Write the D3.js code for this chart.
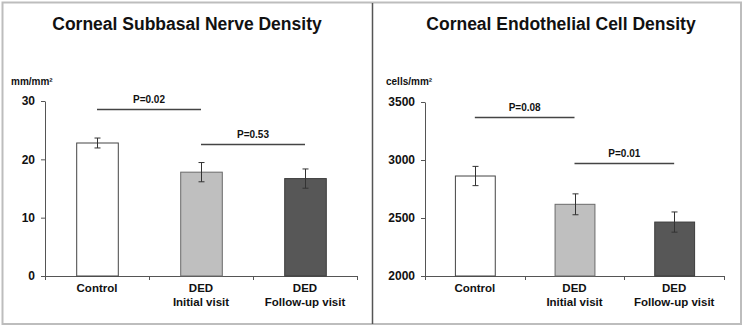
<!DOCTYPE html>
<html><head><meta charset="utf-8">
<script src="https://cdn.jsdelivr.net/npm/d3@7"></script>
<style>html,body{margin:0;padding:0;background:#fff}svg{display:block}text{font-family:Arial,"Liberation Sans",sans-serif;font-weight:bold;fill:#111}</style>
</head><body><svg id="c" width="744" height="328"></svg>
<script>
const categories = ["Control", "DED\nInitial visit", "DED\nFollow-up visit"];
const nerveMeans = [22.8, 17.8, 16.7];
const nerveErr = [0.85, 1.65, 1.65];
const nerveTicks = [0, 10, 20, 30];
const cellMeans = [2862, 2618, 2465];
const cellErr = [83, 90, 87];
const cellTicks = [2000, 2500, 3000, 3500];
const fills = ["#ffffff", "#bfbfbf", "#575757"];
const strokes = ["#444444", "#6a6a6a", "#3c3c3c"];
const nervePvals = [{from:0,to:1,label:"P=0.02",y:28.6},{from:1,to:2,label:"P=0.53",y:22.6}];
const cellPvals = [{from:0,to:1,label:"P=0.08",y:3375},{from:1,to:2,label:"P=0.01",y:2975}];

const svg = d3.select("#c");
svg.append("rect").attr("x",2.5).attr("y",2.5).attr("width",738.5).attr("height",321.5)
  .attr("fill","none").attr("stroke","#bdbdbd").attr("stroke-width",2);
svg.append("line").attr("x1",372.5).attr("x2",372.5).attr("y1",3).attr("y2",324)
  .attr("stroke","#555").attr("stroke-width",1.5);

function panel(o){
  const g = svg.append("g");
  const x = d3.scaleBand().domain(categories).range([o.x0,o.x1]).paddingInner(0.6).paddingOuter(0.3);
  const y = d3.scaleLinear().domain(o.domain).range([276,o.yTop]);
  g.append("text").attr("x",o.tx).attr("y",29.5).attr("text-anchor","middle")
    .style("font-size","17.5px").text(o.title);
  g.append("text").attr("x",o.ux).attr("y",85).style("font-size","10px").text(o.unit);
  // y axis
  const ya = g.append("g").attr("transform",`translate(${o.x0},0)`)
    .call(d3.axisLeft(y).tickValues(o.ticks).tickFormat(d3.format("d")).tickSize(4).tickSizeOuter(0).tickPadding(6));
  ya.select(".domain").attr("stroke","#555");
  ya.selectAll(".tick line").attr("stroke","#555");
  ya.selectAll(".tick text").style("font-size","12px").attr("fill","#111");
  // x axis
  g.append("line").attr("x1",o.x0).attr("x2",o.x1).attr("y1",276.5).attr("y2",276.5).attr("stroke","#555");
  const step = x.step();
  for(let i=0;i<=categories.length;i++){
    const bx = Math.round(o.x0 + i*step)+0.5;
    g.append("line").attr("x1",bx).attr("x2",bx).attr("y1",276).attr("y2",280).attr("stroke","#555");
  }
  // bars
  g.selectAll("rect.bar").data(o.means).join("rect").attr("class","bar")
    .attr("x",(d,i)=>x(categories[i])+0.5).attr("width",x.bandwidth())
    .attr("y",d=>y(d)).attr("height",d=>276-y(d))
    .attr("fill",(d,i)=>fills[i]).attr("stroke",(d,i)=>strokes[i]).attr("stroke-width",1);
  // error bars
  o.means.forEach((m,i)=>{
    const cx = Math.round(x(categories[i])+x.bandwidth()/2)+0.5;
    const e = o.err[i];
    g.append("line").attr("x1",cx).attr("x2",cx).attr("y1",y(m+e)).attr("y2",y(m-e)).attr("stroke","#333");
    [m+e,m-e].forEach(v=>g.append("line").attr("x1",cx-3).attr("x2",cx+3).attr("y1",y(v)).attr("y2",y(v)).attr("stroke","#333"));
  });
  // category labels
  categories.forEach((c,i)=>{
    const cx = x(categories[i])+x.bandwidth()/2;
    const t = g.append("text").attr("text-anchor","middle").style("font-size","11.5px");
    c.split("\n").forEach((ln,j)=>t.append("tspan").attr("x",cx).attr("y",292+j*14).text(ln));
  });
  // p-values
  o.pvals.forEach(p=>{
    const xa = x(categories[p.from])+x.bandwidth()/2, xb = x(categories[p.to])+x.bandwidth()/2;
    const yy = Math.round(y(p.y))+0.5;
    g.append("line").attr("x1",xa).attr("x2",xb).attr("y1",yy).attr("y2",yy).attr("stroke","#444").attr("stroke-width",1.3);
    g.append("text").attr("x",(xa+xb)/2).attr("y",yy-6.5).attr("text-anchor","middle").style("font-size","10px").text(p.label);
  });
}
panel({x0:45,x1:357,domain:[0,30],yTop:101,ticks:nerveTicks,means:nerveMeans,err:nerveErr,
  title:"Corneal Subbasal Nerve Density",tx:187,unit:"mm/mm²",ux:11,pvals:nervePvals});
panel({x0:425,x1:724,domain:[2000,3500],yTop:102,ticks:cellTicks,means:cellMeans,err:cellErr,
  title:"Corneal Endothelial Cell Density",tx:561,unit:"cells/mm²",ux:386,pvals:cellPvals});
</script></body></html>
